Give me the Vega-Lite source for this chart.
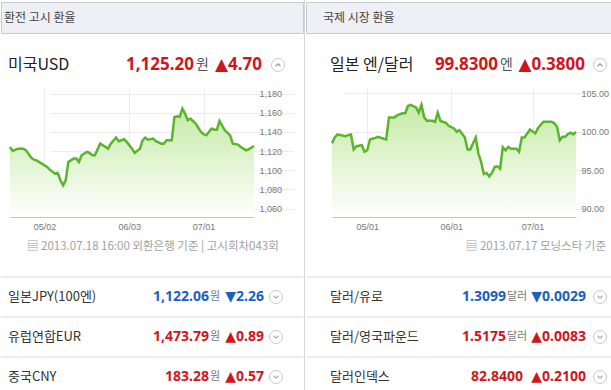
{
  "$schema": "https://vega.github.io/schema/vega-lite/v6.json",
  "padding": 0,
  "background": "white",
  "config": {
    "view": {"stroke": null},
    "font": "Noto Sans CJK KR",
    "concat": {"spacing": 0},
    "axis": {"labelFont": "Liberation Sans", "labelFontSize": 9, "labelColor": "#777777", "gridColor": "#ececec", "ticks": false, "domain": false, "labelPadding": 5},
    "axisX": {"domain": true, "domainColor": "#c4c4c4", "labelPadding": 5}
  },
  "datasets": {
    "usd": [
      {"date": "2013/04/19", "rate": 1124.3}, {"date": "2013/04/20", "rate": 1120.2}, {"date": "2013/04/22", "rate": 1122.6}, {"date": "2013/04/24", "rate": 1122.6}, {"date": "2013/04/25", "rate": 1120.9}, {"date": "2013/04/27", "rate": 1113.2}, {"date": "2013/04/28", "rate": 1111.1}, {"date": "2013/04/29", "rate": 1110.4}, {"date": "2013/05/01", "rate": 1107.0}, {"date": "2013/05/03", "rate": 1103.5}, {"date": "2013/05/04", "rate": 1100.7}, {"date": "2013/05/06", "rate": 1096.5}, {"date": "2013/05/07", "rate": 1097.2}, {"date": "2013/05/08", "rate": 1089.6}, {"date": "2013/05/09", "rate": 1084.3}, {"date": "2013/05/10", "rate": 1089.6}, {"date": "2013/05/11", "rate": 1108.7}, {"date": "2013/05/13", "rate": 1112.2}, {"date": "2013/05/14", "rate": 1112.2}, {"date": "2013/05/15", "rate": 1108.7}, {"date": "2013/05/16", "rate": 1115.7}, {"date": "2013/05/18", "rate": 1119.1}, {"date": "2013/05/19", "rate": 1118.1}, {"date": "2013/05/20", "rate": 1115.7}, {"date": "2013/05/21", "rate": 1115.7}, {"date": "2013/05/23", "rate": 1127.8}, {"date": "2013/05/24", "rate": 1126.1}, {"date": "2013/05/26", "rate": 1122.6}, {"date": "2013/05/27", "rate": 1127.8}, {"date": "2013/05/29", "rate": 1134.1}, {"date": "2013/05/30", "rate": 1130.3}, {"date": "2013/06/01", "rate": 1132.4}, {"date": "2013/06/02", "rate": 1129.6}, {"date": "2013/06/04", "rate": 1122.6}, {"date": "2013/06/05", "rate": 1118.1}, {"date": "2013/06/07", "rate": 1122.6}, {"date": "2013/06/08", "rate": 1131.3}, {"date": "2013/06/09", "rate": 1134.1}, {"date": "2013/06/10", "rate": 1132.0}, {"date": "2013/06/12", "rate": 1133.0}, {"date": "2013/06/13", "rate": 1130.3}, {"date": "2013/06/15", "rate": 1127.8}, {"date": "2013/06/16", "rate": 1127.8}, {"date": "2013/06/17", "rate": 1131.3}, {"date": "2013/06/19", "rate": 1131.3}, {"date": "2013/06/20", "rate": 1155.7}, {"date": "2013/06/21", "rate": 1156.3}, {"date": "2013/06/22", "rate": 1155.7}, {"date": "2013/06/23", "rate": 1164.3}, {"date": "2013/06/24", "rate": 1159.1}, {"date": "2013/06/25", "rate": 1152.2}, {"date": "2013/06/26", "rate": 1153.9}, {"date": "2013/06/28", "rate": 1148.7}, {"date": "2013/06/30", "rate": 1140.0}, {"date": "2013/07/01", "rate": 1137.6}, {"date": "2013/07/02", "rate": 1136.5}, {"date": "2013/07/04", "rate": 1143.5}, {"date": "2013/07/05", "rate": 1142.4}, {"date": "2013/07/06", "rate": 1142.4}, {"date": "2013/07/07", "rate": 1151.5}, {"date": "2013/07/09", "rate": 1141.7}, {"date": "2013/07/11", "rate": 1136.5}, {"date": "2013/07/12", "rate": 1127.8}, {"date": "2013/07/14", "rate": 1126.8}, {"date": "2013/07/15", "rate": 1124.3}, {"date": "2013/07/17", "rate": 1120.9}, {"date": "2013/07/18", "rate": 1121.9}, {"date": "2013/07/20", "rate": 1125.4}
    ],
    "jpy": [
      {"date": "2013/04/18", "rate": 98.5}, {"date": "2013/04/19", "rate": 99.26}, {"date": "2013/04/20", "rate": 99.65}, {"date": "2013/04/21", "rate": 99.57}, {"date": "2013/04/23", "rate": 99.43}, {"date": "2013/04/24", "rate": 99.57}, {"date": "2013/04/25", "rate": 99.65}, {"date": "2013/04/26", "rate": 97.7}, {"date": "2013/04/27", "rate": 98.13}, {"date": "2013/04/29", "rate": 98.26}, {"date": "2013/04/30", "rate": 97.4}, {"date": "2013/05/01", "rate": 97.6}, {"date": "2013/05/02", "rate": 99.0}, {"date": "2013/05/04", "rate": 99.2}, {"date": "2013/05/05", "rate": 99.35}, {"date": "2013/05/07", "rate": 99.1}, {"date": "2013/05/08", "rate": 99.0}, {"date": "2013/05/09", "rate": 101.87}, {"date": "2013/05/11", "rate": 101.87}, {"date": "2013/05/12", "rate": 102.13}, {"date": "2013/05/14", "rate": 102.4}, {"date": "2013/05/15", "rate": 102.4}, {"date": "2013/05/16", "rate": 103.35}, {"date": "2013/05/17", "rate": 103.5}, {"date": "2013/05/19", "rate": 103.17}, {"date": "2013/05/20", "rate": 102.5}, {"date": "2013/05/21", "rate": 103.5}, {"date": "2013/05/22", "rate": 101.87}, {"date": "2013/05/23", "rate": 101.43}, {"date": "2013/05/25", "rate": 101.43}, {"date": "2013/05/26", "rate": 101.3}, {"date": "2013/05/27", "rate": 102.48}, {"date": "2013/05/28", "rate": 101.4}, {"date": "2013/05/30", "rate": 101.17}, {"date": "2013/05/31", "rate": 100.78}, {"date": "2013/06/02", "rate": 100.43}, {"date": "2013/06/03", "rate": 100.0}, {"date": "2013/06/04", "rate": 100.2}, {"date": "2013/06/06", "rate": 99.26}, {"date": "2013/06/07", "rate": 97.7}, {"date": "2013/06/08", "rate": 97.7}, {"date": "2013/06/10", "rate": 99.26}, {"date": "2013/06/11", "rate": 97.17}, {"date": "2013/06/12", "rate": 96.1}, {"date": "2013/06/13", "rate": 94.5}, {"date": "2013/06/14", "rate": 94.65}, {"date": "2013/06/15", "rate": 94.2}, {"date": "2013/06/16", "rate": 94.65}, {"date": "2013/06/17", "rate": 95.43}, {"date": "2013/06/18", "rate": 95.5}, {"date": "2013/06/19", "rate": 95.2}, {"date": "2013/06/20", "rate": 98.0}, {"date": "2013/06/21", "rate": 97.6}, {"date": "2013/06/22", "rate": 98.04}, {"date": "2013/06/23", "rate": 97.8}, {"date": "2013/06/25", "rate": 97.8}, {"date": "2013/06/26", "rate": 97.4}, {"date": "2013/06/27", "rate": 99.26}, {"date": "2013/06/28", "rate": 99.26}, {"date": "2013/06/29", "rate": 99.78}, {"date": "2013/06/30", "rate": 100.3}, {"date": "2013/07/02", "rate": 99.78}, {"date": "2013/07/03", "rate": 100.5}, {"date": "2013/07/05", "rate": 101.3}, {"date": "2013/07/06", "rate": 101.3}, {"date": "2013/07/08", "rate": 101.3}, {"date": "2013/07/09", "rate": 101.1}, {"date": "2013/07/10", "rate": 100.65}, {"date": "2013/07/11", "rate": 98.9}, {"date": "2013/07/12", "rate": 99.35}, {"date": "2013/07/13", "rate": 99.35}, {"date": "2013/07/14", "rate": 99.7}, {"date": "2013/07/15", "rate": 99.87}, {"date": "2013/07/16", "rate": 99.65}, {"date": "2013/07/17", "rate": 100.0}
    ]
  },
  "hconcat": [
    {
      "spacing": 0,
      "bounds": "flush",
      "vconcat": [
        {"width": 302, "height": 2, "data": {"values": []}, "mark": "point"},
        {
          "width": 302, "height": 31,
          "view": {"fill": "#eff0f6", "stroke": "#c8cbd6"},
          "data": {"values": [{"label": "환전 고시 환율"}]},
          "mark": {"type": "text", "align": "left", "baseline": "middle", "fontSize": 12, "color": "#444444"},
          "encoding": {"text": {"field": "label"}, "x": {"value": 3}, "y": {"value": 16}}
        },
        {
          "width": 302, "height": 54,
          "data": {"values": [{"name": "미국USD", "value": "1,125.20", "unit": "원", "change": "▲4.70", "dir": "up"}]},
          "encoding": {"y": {"value": 32}},
          "layer": [
            {"mark": {"type": "text", "align": "left", "baseline": "middle", "fontSize": 16, "color": "#222222"}, "encoding": {"x": {"value": 7}, "text": {"field": "name"}}},
            {"mark": {"type": "text", "align": "right", "baseline": "middle", "fontSize": 17, "fontWeight": "bold", "font": "Noto Sans"}, "encoding": {"x": {"value": 193}, "text": {"field": "value"}, "color": {"field": "dir", "type": "nominal", "scale": {"domain": ["up", "down"], "range": ["#d0161b", "#1d5fc0"]}, "legend": null}}},
            {"mark": {"type": "text", "align": "left", "baseline": "middle", "fontSize": 14, "color": "#555555"}, "encoding": {"x": {"value": 195}, "text": {"field": "unit"}}},
            {"mark": {"type": "text", "align": "right", "baseline": "middle", "fontSize": 17, "fontWeight": "bold", "font": "Noto Sans, DejaVu Sans"}, "encoding": {"x": {"value": 261}, "text": {"field": "change"}, "color": {"field": "dir", "type": "nominal", "scale": {"domain": ["up", "down"], "range": ["#d0161b", "#1d5fc0"]}, "legend": null}}},
            {"mark": {"type": "point", "shape": "circle", "size": 169, "filled": true, "fill": "white", "stroke": "#c8c8c8", "strokeWidth": 1, "opacity": 1}, "encoding": {"x": {"value": 277}}},
            {"mark": {"type": "point", "shape": "M-0.5,0.25L0,-0.25L0.5,0.25", "size": 100, "filled": false, "stroke": "#999999", "strokeWidth": 1.2, "opacity": 1}, "encoding": {"x": {"value": 277}}}
          ]
        },
        {
          "width": 302, "height": 130,
          "data": {"name": "usd"},
          "encoding": {
            "x": {"field": "date", "type": "temporal", "scale": {"domain": [{"year": 2013, "month": 4, "date": 19}, {"year": 2013, "month": 7, "date": 20}], "nice": false, "range": [9, 253]}, "axis": {"title": null, "values": [{"year": 2013, "month": 5, "date": 2}, {"year": 2013, "month": 6, "date": 3}, {"year": 2013, "month": 7, "date": 1}], "format": "%m/%d", "grid": true}},
            "y": {"field": "rate", "type": "quantitative", "scale": {"domain": [1051.3, 1186.9], "zero": false, "nice": false}, "axis": {"title": null, "orient": "right", "offset": -49, "values": [1060, 1080, 1100, 1120, 1140, 1160, 1180], "format": ",d", "grid": true}}
          },
          "layer": [
            {"mark": {"type": "area", "color": {"gradient": "linear", "x1": 0, "y1": 0, "x2": 0, "y2": 1, "stops": [{"offset": 0, "color": "#c6eaa6"}, {"offset": 1, "color": "#ffffff"}]}}, "encoding": {"y2": {"datum": 1051.3}}},
            {"mark": {"type": "line", "color": "#5ab52c", "strokeWidth": 2.5}}
          ]
        },
        {
          "width": 302, "height": 60,
          "data": {"values": [{"note": "▤ 2013.07.18 16:00 외환은행 기준 | 고시회차043회"}]},
          "mark": {"type": "text", "align": "left", "baseline": "middle", "fontSize": 11.5, "color": "#a0a0a0"},
          "encoding": {"text": {"field": "note"}, "x": {"value": 26}, "y": {"value": 30}}
        },
        {
          "width": 302, "height": 113,
          "data": {"values": [
            {"name": "일본JPY(100엔)", "value": "1,122.06", "unit": "원", "change": "▼2.26", "dir": "down"},
            {"name": "유럽연합EUR", "value": "1,473.79", "unit": "원", "change": "▲0.89", "dir": "up"},
            {"name": "중국CNY", "value": "183.28", "unit": "원", "change": "▲0.57", "dir": "up"}
          ]},
          "encoding": {"y": {"field": "name", "type": "nominal", "sort": null, "scale": {"type": "band", "range": [0, 120], "paddingInner": 0, "paddingOuter": 0}, "axis": null}},
          "layer": [
            {"mark": {"type": "rule", "color": "#dcdcdc"}, "encoding": {"y": {"field": "name", "type": "nominal", "sort": null, "bandPosition": 0, "axis": null}}},
            {"mark": {"type": "text", "align": "left", "baseline": "middle", "fontSize": 13, "color": "#333333"}, "encoding": {"x": {"value": 7}, "text": {"field": "name"}}},
            {"mark": {"type": "text", "align": "right", "baseline": "middle", "fontSize": 14, "fontWeight": "bold", "font": "Noto Sans"}, "encoding": {"x": {"value": 208}, "text": {"field": "value"}, "color": {"field": "dir", "type": "nominal", "scale": {"domain": ["up", "down"], "range": ["#d0161b", "#1d5fc0"]}, "legend": null}}},
            {"mark": {"type": "text", "align": "left", "baseline": "middle", "fontSize": 11, "color": "#777777"}, "encoding": {"x": {"value": 209}, "text": {"field": "unit"}}},
            {"mark": {"type": "text", "align": "right", "baseline": "middle", "fontSize": 14, "fontWeight": "bold", "font": "Noto Sans, DejaVu Sans"}, "encoding": {"x": {"value": 263}, "text": {"field": "change"}, "color": {"field": "dir", "type": "nominal", "scale": {"domain": ["up", "down"], "range": ["#d0161b", "#1d5fc0"]}, "legend": null}}},
            {"mark": {"type": "point", "shape": "circle", "size": 169, "filled": true, "fill": "white", "stroke": "#c8c8c8", "strokeWidth": 1, "opacity": 1}, "encoding": {"x": {"value": 275}}},
            {"mark": {"type": "point", "shape": "M-0.5,-0.25L0,0.25L0.5,-0.25", "size": 100, "filled": false, "stroke": "#aaaaaa", "strokeWidth": 1.2, "opacity": 1}, "encoding": {"x": {"value": 275}}}
          ]
        }
      ]
    },
    {
      "width": 1, "height": 390,
      "view": {"fill": "#d6d6d6"},
      "data": {"values": []},
      "mark": "point"
    },
    {
      "spacing": 0,
      "bounds": "flush",
      "vconcat": [
        {"width": 308, "height": 2, "data": {"values": []}, "mark": "point"},
        {
          "width": 308, "height": 31,
          "view": {"fill": "#eff0f6", "stroke": "#c8cbd6"},
          "data": {"values": [{"label": "국제 시장 환율"}]},
          "mark": {"type": "text", "align": "left", "baseline": "middle", "fontSize": 12, "color": "#444444"},
          "encoding": {"text": {"field": "label"}, "x": {"value": 17}, "y": {"value": 16}}
        },
        {
          "width": 308, "height": 54,
          "data": {"values": [{"name": "일본 엔/달러", "value": "99.8300", "unit": "엔", "change": "▲0.3800", "dir": "up"}]},
          "encoding": {"y": {"value": 32}},
          "layer": [
            {"mark": {"type": "text", "align": "left", "baseline": "middle", "fontSize": 16, "color": "#222222"}, "encoding": {"x": {"value": 24}, "text": {"field": "name"}}},
            {"mark": {"type": "text", "align": "right", "baseline": "middle", "fontSize": 17, "fontWeight": "bold", "font": "Noto Sans"}, "encoding": {"x": {"value": 192}, "text": {"field": "value"}, "color": {"field": "dir", "type": "nominal", "scale": {"domain": ["up", "down"], "range": ["#d0161b", "#1d5fc0"]}, "legend": null}}},
            {"mark": {"type": "text", "align": "left", "baseline": "middle", "fontSize": 14, "color": "#555555"}, "encoding": {"x": {"value": 194}, "text": {"field": "unit"}}},
            {"mark": {"type": "text", "align": "right", "baseline": "middle", "fontSize": 17, "fontWeight": "bold", "font": "Noto Sans, DejaVu Sans"}, "encoding": {"x": {"value": 279}, "text": {"field": "change"}, "color": {"field": "dir", "type": "nominal", "scale": {"domain": ["up", "down"], "range": ["#d0161b", "#1d5fc0"]}, "legend": null}}},
            {"mark": {"type": "point", "shape": "circle", "size": 169, "filled": true, "fill": "white", "stroke": "#c8c8c8", "strokeWidth": 1, "opacity": 1}, "encoding": {"x": {"value": 294}}},
            {"mark": {"type": "point", "shape": "M-0.5,0.25L0,-0.25L0.5,0.25", "size": 100, "filled": false, "stroke": "#999999", "strokeWidth": 1.2, "opacity": 1}, "encoding": {"x": {"value": 294}}}
          ]
        },
        {
          "width": 308, "height": 130,
          "data": {"name": "jpy"},
          "encoding": {
            "x": {"field": "date", "type": "temporal", "scale": {"domain": [{"year": 2013, "month": 4, "date": 18}, {"year": 2013, "month": 7, "date": 17}], "nice": false, "range": [26, 270]}, "axis": {"title": null, "values": [{"year": 2013, "month": 5, "date": 1}, {"year": 2013, "month": 6, "date": 1}, {"year": 2013, "month": 7, "date": 1}], "format": "%m/%d", "grid": true}},
            "y": {"field": "rate", "type": "quantitative", "scale": {"domain": [88.92, 105.82], "zero": false, "nice": false}, "axis": {"title": null, "orient": "right", "offset": -38, "values": [90, 95, 100, 105], "format": ".2f", "grid": true}}
          },
          "layer": [
            {"mark": {"type": "area", "color": {"gradient": "linear", "x1": 0, "y1": 0, "x2": 0, "y2": 1, "stops": [{"offset": 0, "color": "#c6eaa6"}, {"offset": 1, "color": "#ffffff"}]}}, "encoding": {"y2": {"datum": 88.92}}},
            {"mark": {"type": "line", "color": "#5ab52c", "strokeWidth": 2.5}}
          ]
        },
        {
          "width": 308, "height": 60,
          "data": {"values": [{"note": "▤ 2013.07.17 모닝스타 기준"}]},
          "mark": {"type": "text", "align": "right", "baseline": "middle", "fontSize": 11.5, "color": "#a0a0a0"},
          "encoding": {"text": {"field": "note"}, "x": {"value": 300}, "y": {"value": 30}}
        },
        {
          "width": 308, "height": 113,
          "data": {"values": [
            {"name": "달러/유로", "value": "1.3099", "unit": "달러", "change": "▼0.0029", "dir": "down"},
            {"name": "달러/영국파운드", "value": "1.5175", "unit": "달러", "change": "▲0.0083", "dir": "up"},
            {"name": "달러인덱스", "value": "82.8400", "unit": "", "change": "▲0.2100", "dir": "up"}
          ]},
          "encoding": {"y": {"field": "name", "type": "nominal", "sort": null, "scale": {"type": "band", "range": [0, 120], "paddingInner": 0, "paddingOuter": 0}, "axis": null}},
          "layer": [
            {"mark": {"type": "rule", "color": "#dcdcdc"}, "encoding": {"y": {"field": "name", "type": "nominal", "sort": null, "bandPosition": 0, "axis": null}}},
            {"mark": {"type": "text", "align": "left", "baseline": "middle", "fontSize": 13, "color": "#333333"}, "encoding": {"x": {"value": 24}, "text": {"field": "name"}}},
            {"transform": [{"filter": "datum.unit != ''"}], "mark": {"type": "text", "align": "right", "baseline": "middle", "fontSize": 14, "fontWeight": "bold", "font": "Noto Sans"}, "encoding": {"x": {"value": 200}, "text": {"field": "value"}, "color": {"field": "dir", "type": "nominal", "scale": {"domain": ["up", "down"], "range": ["#d0161b", "#1d5fc0"]}, "legend": null}}},
            {"transform": [{"filter": "datum.unit == ''"}], "mark": {"type": "text", "align": "right", "baseline": "middle", "fontSize": 14, "fontWeight": "bold", "font": "Noto Sans"}, "encoding": {"x": {"value": 217}, "text": {"field": "value"}, "color": {"field": "dir", "type": "nominal", "scale": {"domain": ["up", "down"], "range": ["#d0161b", "#1d5fc0"]}, "legend": null}}},
            {"mark": {"type": "text", "align": "left", "baseline": "middle", "fontSize": 11, "color": "#777777"}, "encoding": {"x": {"value": 201}, "text": {"field": "unit"}}},
            {"mark": {"type": "text", "align": "right", "baseline": "middle", "fontSize": 14, "fontWeight": "bold", "font": "Noto Sans, DejaVu Sans"}, "encoding": {"x": {"value": 280}, "text": {"field": "change"}, "color": {"field": "dir", "type": "nominal", "scale": {"domain": ["up", "down"], "range": ["#d0161b", "#1d5fc0"]}, "legend": null}}},
            {"mark": {"type": "point", "shape": "circle", "size": 169, "filled": true, "fill": "white", "stroke": "#c8c8c8", "strokeWidth": 1, "opacity": 1}, "encoding": {"x": {"value": 294}}},
            {"mark": {"type": "point", "shape": "M-0.5,-0.25L0,0.25L0.5,-0.25", "size": 100, "filled": false, "stroke": "#aaaaaa", "strokeWidth": 1.2, "opacity": 1}, "encoding": {"x": {"value": 294}}}
          ]
        }
      ]
    }
  ]
}
